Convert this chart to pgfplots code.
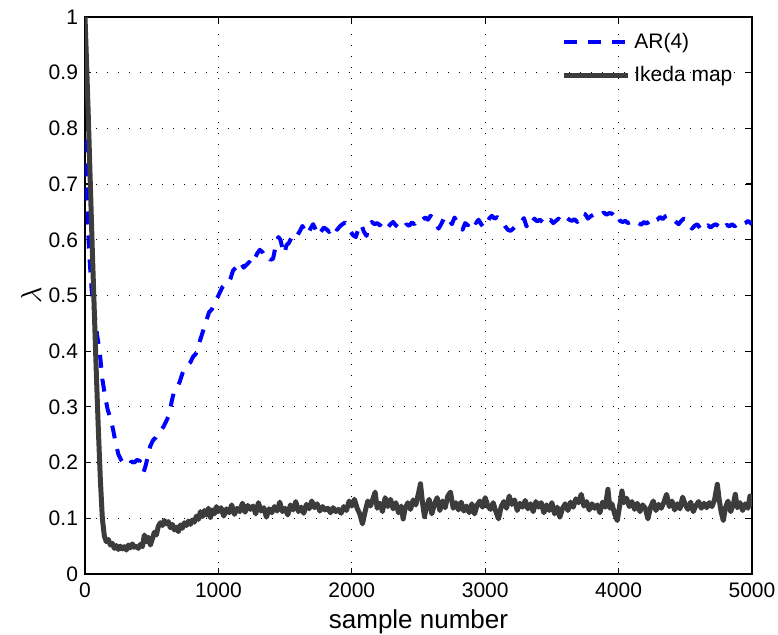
\documentclass[border=0pt]{standalone}
\usepackage{pgfplots}
\pgfplotsset{compat=1.18}
\usepackage{fontspec}
\setmainfont{Liberation Sans}
\definecolor{ikeda}{RGB}{60,60,60}
\definecolor{arblue}{RGB}{0,0,255}
\begin{document}
\begin{tikzpicture}
\begin{axis}[
  scale only axis,
  width=333.5pt, height=278.5pt,
  xmin=0, xmax=5000, ymin=0, ymax=1,
  xtick={0,1000,2000,3000,4000,5000},
  ytick={0,0.1,0.2,0.3,0.4,0.5,0.6,0.7,0.8,0.9,1},
  /pgf/number format/assume math mode=true,
  /pgf/number format/1000 sep={},
  tick label style={font=\fontsize{10.5}{12.5}\selectfont},
  xticklabel style={yshift=-1pt},
  xlabel={sample number},
  ylabel={$\lambda$},
  xlabel style={font=\fontsize{13}{15}\selectfont, yshift=1pt},
  ylabel style={font=\fontsize{14}{16}\selectfont},
  ylabel shift=-3pt,
  grid=major,
  major grid style={black, line width=0.5pt, dash pattern=on 0.6pt off 4.9pt},
  tick align=inside, tick pos=both,
  major tick length=3pt,
  axis line style={black, line width=0.7pt},
  every tick/.style={black, line width=0.6pt},
  legend style={draw=none, fill=none, at={(0.7166,1)}, anchor=north west,
     xshift=-4pt, yshift=-4pt,
     font=\fontsize{10.5}{12.5}\selectfont, row sep=3.5pt},
  legend cell align=left,
  legend image code/.code={\draw[#1] (0pt,0pt) -- (32pt,0pt);},
]
\addplot[arblue, line width=2pt, line join=round, dash pattern=on 6.5pt off 5.5pt] coordinates {
(0,0.78) (15,0.68) (30,0.58) (50,0.51) (70,0.47) (90,0.43) (110,0.40) (130,0.35) (150,0.32) (170,0.295) (190,0.28) (210,0.26) (230,0.235) (250,0.215) (270,0.205) (290,0.198) (310,0.2) (330,0.197) (350,0.202) (370,0.2) (390,0.205) (410,0.203) (425,0.19) (440,0.183) (455,0.195) (470,0.21) (490,0.23) (510,0.24) (530,0.245) (550,0.255) (570,0.258) (590,0.265) (610,0.275) (630,0.285) (650,0.31) (670,0.33) (690,0.335) (710,0.345) (730,0.36) (750,0.37) (770,0.375) (790,0.38) (810,0.39) (830,0.395) (850,0.41) (870,0.425) (890,0.44) (910,0.455) (930,0.47) (950,0.475) (970,0.485) (990,0.495) (1010,0.505) (1030,0.515) (1050,0.52) (1070,0.52) (1090,0.53) (1110,0.545) (1130,0.55) (1150,0.56) (1170,0.558) (1190,0.55) (1210,0.555) (1230,0.56) (1250,0.555) (1270,0.565) (1290,0.575) (1310,0.582) (1330,0.578) (1350,0.57) (1370,0.572) (1390,0.564) (1410,0.566) (1430,0.59) (1450,0.605) (1465,0.6) (1480,0.585) (1495,0.575) (1510,0.59) (1530,0.595) (1550,0.605) (1570,0.612) (1590,0.608) (1610,0.615) (1630,0.625) (1650,0.615) (1670,0.61) (1690,0.62) (1710,0.628) (1730,0.618) (1750,0.608) (1770,0.615) (1790,0.622) (1810,0.619) (1830,0.614) (1850,0.62) (1870,0.626) (1890,0.618) (1910,0.624) (1930,0.628) (1950,0.631) (1970,0.625) (1990,0.615) (2010,0.608) (2030,0.605) (2050,0.62) (2070,0.628) (2090,0.615) (2110,0.607) (2130,0.625) (2150,0.632) (2170,0.628) (2190,0.63) (2210,0.626) (2230,0.632) (2250,0.627) (2270,0.622) (2290,0.628) (2310,0.632) (2330,0.626) (2350,0.622) (2370,0.626) (2390,0.622) (2410,0.628) (2430,0.625) (2450,0.631) (2470,0.628) (2490,0.635) (2510,0.632) (2530,0.636) (2550,0.64) (2570,0.636) (2590,0.643) (2610,0.639) (2630,0.631) (2650,0.62) (2670,0.628) (2690,0.638) (2710,0.632) (2730,0.636) (2750,0.628) (2770,0.64) (2790,0.632) (2810,0.624) (2830,0.618) (2850,0.63) (2870,0.626) (2890,0.634) (2910,0.638) (2930,0.63) (2950,0.636) (2970,0.628) (2990,0.622) (3010,0.628) (3030,0.638) (3050,0.643) (3070,0.638) (3090,0.641) (3110,0.636) (3130,0.632) (3150,0.624) (3170,0.618) (3190,0.616) (3210,0.62) (3230,0.625) (3250,0.627) (3270,0.631) (3290,0.639) (3310,0.624) (3330,0.636) (3350,0.632) (3370,0.638) (3390,0.633) (3410,0.636) (3430,0.632) (3450,0.638) (3470,0.633) (3490,0.636) (3510,0.63) (3530,0.634) (3550,0.638) (3570,0.632) (3590,0.636) (3610,0.64) (3630,0.636) (3650,0.634) (3670,0.637) (3690,0.632) (3710,0.64) (3730,0.648) (3750,0.646) (3770,0.638) (3790,0.642) (3810,0.645) (3830,0.648) (3850,0.65) (3870,0.646) (3890,0.649) (3910,0.645) (3930,0.648) (3950,0.647) (3970,0.642) (3990,0.646) (4010,0.634) (4030,0.632) (4050,0.634) (4070,0.63) (4090,0.632) (4110,0.628) (4130,0.626) (4150,0.63) (4170,0.627) (4190,0.632) (4210,0.629) (4230,0.633) (4250,0.628) (4270,0.634) (4290,0.636) (4310,0.641) (4330,0.637) (4350,0.642) (4370,0.644) (4390,0.64) (4410,0.636) (4430,0.632) (4450,0.628) (4470,0.634) (4490,0.638) (4510,0.636) (4530,0.628) (4550,0.62) (4570,0.625) (4590,0.628) (4610,0.621) (4630,0.624) (4650,0.62) (4670,0.626) (4690,0.622) (4710,0.626) (4730,0.628) (4750,0.624) (4770,0.628) (4790,0.622) (4810,0.627) (4830,0.624) (4850,0.628) (4870,0.624) (4890,0.628) (4910,0.624) (4930,0.628) (4950,0.63) (4970,0.634) (4990,0.63) (5000,0.628)
};
\addlegendentry{AR(4)}
\addplot[ikeda, line width=2.5pt, line join=round] coordinates {
(0,1.00) (10,0.93) (25,0.82) (40,0.70) (55,0.58) (70,0.47) (85,0.36) (100,0.26) (115,0.17) (130,0.10) (145,0.068) (160,0.058) (175,0.062) (190,0.052) (205,0.055) (220,0.046) (235,0.051) (250,0.044) (265,0.050) (280,0.045) (295,0.049) (310,0.043) (325,0.052) (340,0.047) (355,0.054) (370,0.048) (385,0.050) (400,0.046) (415,0.053) (430,0.049) (445,0.070) (460,0.058) (475,0.066) (490,0.052) (505,0.063) (520,0.075) (535,0.070) (550,0.086) (565,0.092) (580,0.087) (595,0.096) (610,0.090) (625,0.094) (640,0.083) (655,0.089) (670,0.079) (685,0.084) (700,0.076) (715,0.088) (730,0.082) (745,0.092) (760,0.087) (775,0.095) (790,0.089) (805,0.097) (820,0.093) (835,0.104) (850,0.098) (865,0.112) (880,0.103) (895,0.114) (910,0.106) (925,0.118) (940,0.101) (955,0.115) (970,0.108) (985,0.121) (1000,0.112) (1020,0.119) (1040,0.104) (1060,0.117) (1080,0.110) (1100,0.124) (1120,0.107) (1140,0.118) (1160,0.112) (1180,0.127) (1200,0.111) (1220,0.123) (1240,0.116) (1260,0.122) (1280,0.108) (1300,0.128) (1320,0.113) (1340,0.119) (1360,0.102) (1380,0.117) (1400,0.110) (1420,0.121) (1440,0.113) (1460,0.129) (1480,0.112) (1500,0.118) (1520,0.106) (1540,0.124) (1560,0.115) (1580,0.130) (1600,0.112) (1620,0.120) (1640,0.109) (1660,0.125) (1680,0.117) (1700,0.131) (1720,0.119) (1740,0.126) (1760,0.113) (1780,0.121) (1800,0.115) (1820,0.118) (1840,0.110) (1860,0.119) (1880,0.112) (1900,0.116) (1920,0.109) (1940,0.121) (1960,0.114) (1980,0.131) (2000,0.122) (2020,0.134) (2040,0.118) (2060,0.108) (2080,0.090) (2100,0.112) (2120,0.131) (2140,0.122) (2160,0.136) (2175,0.147) (2190,0.118) (2210,0.127) (2230,0.112) (2250,0.137) (2270,0.121) (2290,0.134) (2310,0.117) (2330,0.128) (2350,0.110) (2370,0.122) (2385,0.099) (2400,0.118) (2420,0.128) (2440,0.116) (2460,0.133) (2480,0.124) (2500,0.145) (2515,0.162) (2530,0.128) (2545,0.103) (2560,0.121) (2580,0.134) (2600,0.108) (2620,0.126) (2640,0.137) (2660,0.114) (2680,0.131) (2700,0.119) (2720,0.140) (2740,0.147) (2760,0.118) (2780,0.128) (2800,0.115) (2820,0.129) (2840,0.113) (2860,0.122) (2880,0.110) (2900,0.126) (2920,0.108) (2940,0.124) (2960,0.131) (2980,0.120) (3000,0.137) (3020,0.122) (3040,0.116) (3060,0.128) (3080,0.112) (3100,0.099) (3120,0.121) (3140,0.130) (3160,0.118) (3180,0.140) (3200,0.125) (3220,0.133) (3240,0.114) (3260,0.127) (3280,0.120) (3300,0.132) (3320,0.117) (3340,0.126) (3360,0.112) (3380,0.130) (3400,0.120) (3420,0.128) (3440,0.110) (3460,0.124) (3480,0.114) (3500,0.128) (3520,0.108) (3540,0.120) (3560,0.102) (3580,0.118) (3600,0.126) (3620,0.114) (3640,0.129) (3660,0.120) (3680,0.135) (3700,0.128) (3720,0.143) (3740,0.122) (3760,0.130) (3780,0.115) (3800,0.126) (3820,0.118) (3840,0.124) (3860,0.110) (3880,0.129) (3900,0.120) (3920,0.152) (3935,0.118) (3950,0.126) (3970,0.108) (3990,0.096) (4010,0.125) (4025,0.149) (4040,0.128) (4060,0.136) (4080,0.121) (4100,0.130) (4120,0.116) (4140,0.127) (4160,0.112) (4180,0.124) (4200,0.118) (4220,0.099) (4240,0.120) (4260,0.131) (4280,0.114) (4300,0.125) (4320,0.118) (4340,0.129) (4360,0.143) (4380,0.121) (4400,0.131) (4420,0.115) (4440,0.126) (4460,0.117) (4480,0.138) (4500,0.124) (4520,0.116) (4540,0.129) (4560,0.112) (4580,0.123) (4600,0.130) (4620,0.118) (4640,0.127) (4660,0.119) (4680,0.128) (4700,0.121) (4720,0.134) (4740,0.161) (4755,0.132) (4770,0.110) (4785,0.096) (4800,0.118) (4820,0.131) (4840,0.112) (4860,0.125) (4875,0.143) (4890,0.119) (4910,0.128) (4930,0.114) (4950,0.126) (4970,0.118) (4985,0.140) (5000,0.121)
};
\addlegendentry{Ikeda map}
\end{axis}
\pgfresetboundingbox
\path (-42.5pt,-30.5pt) rectangle (346.5pt,287pt);
\end{tikzpicture}
\end{document}
